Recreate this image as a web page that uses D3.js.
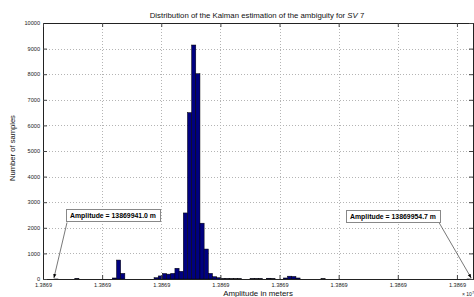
<!DOCTYPE html>
<html>
<head>
<meta charset="utf-8">
<script src="https://cdn.jsdelivr.net/npm/d3@7"></script>
<style>
  body { margin: 0; background: #fff; }
  svg { display: block; font-family: "Liberation Sans", Arial, sans-serif; }
</style>
</head>
<body>
<svg id="chart" width="474" height="297"></svg>
<script>
// histogram of the ambiguity estimate, 100 bins between min and max
var minAmp = 13869940.96;
var maxAmp = 13869954.72;
var binCounts = [
  1, 0, 0, 0, 0, 20, 0, 0, 0, 0,
  0, 0, 0, 0, 40, 740, 220, 0, 0, 0,
  0, 0, 0, 0, 50, 120, 215, 190, 220, 420,
  300, 2580, 6500, 9140, 8020, 2180, 1170, 220, 90, 50,
  15, 15, 10, 10, 10, 0, 0, 15, 15, 15,
  0, 30, 15, 0, 0, 40, 110, 100, 40, 0,
  0, 0, 0, 0, 10, 0, 0, 0, 0, 0,
  0, 0, 0, 0, 0, 0, 0, 0, 0, 0,
  0, 0, 0, 0, 0, 0, 0, 0, 0, 0,
  0, 0, 0, 0, 0, 0, 0, 0, 0, 1
];
var xDomain = [13869940.60, 13869954.78];
var xTickValues = [13869940.60, 13869942.55, 13869944.50, 13869946.45,
                   13869948.40, 13869950.35, 13869952.30, 13869954.25];
var yTickValues = [0, 1000, 2000, 3000, 4000, 5000, 6000, 7000, 8000, 9000, 10000];

var svg = d3.select("#chart");
var pLeft = 43, pRight = 473, pTop = 23, pBottom = 279;

var x = d3.scaleLinear().domain(xDomain).range([pLeft, pRight]);
var y = d3.scaleLinear().domain([0, 10000]).range([pBottom, pTop]);
var binW = (maxAmp - minAmp) / binCounts.length;

// grid
var grid = svg.append("g").attr("stroke", "#b4b4b4").attr("stroke-width", 1)
  .attr("stroke-dasharray", "1,2");
grid.selectAll(".gx").data(xTickValues.slice(1)).enter().append("line")
  .attr("x1", d => Math.round(x(d)) + 0.5).attr("x2", d => Math.round(x(d)) + 0.5)
  .attr("y1", pTop).attr("y2", pBottom);
grid.selectAll(".gy").data(yTickValues.slice(1, -1)).enter().append("line")
  .attr("x1", pLeft).attr("x2", pRight)
  .attr("y1", d => Math.round(y(d)) + 0.5).attr("y2", d => Math.round(y(d)) + 0.5);

// bars
var bins = binCounts.map(function (c, i) { return { i: i, c: c }; }).filter(d => d.c > 0);
svg.append("g").selectAll("rect").data(bins).enter().append("rect")
  .attr("x", d => x(minAmp + d.i * binW))
  .attr("width", d => x(minAmp + (d.i + 1) * binW) - x(minAmp + d.i * binW))
  .attr("y", d => y(d.c))
  .attr("height", d => y(0) - y(d.c))
  .attr("fill", "#000080")
  .attr("stroke", "#000")
  .attr("stroke-width", 0.5);

// axes (ticks point inward, like matlab)
var fmtX = d => (Math.floor(d / 1e3) / 1e4).toFixed(4);
var xAxis = svg.append("g").attr("transform", "translate(0," + pBottom + ")")
  .call(d3.axisBottom(x).tickValues(xTickValues).tickFormat(fmtX).tickSize(-4).tickPadding(4));
var yAxis = svg.append("g").attr("transform", "translate(" + pLeft + ",0)")
  .call(d3.axisLeft(y).tickValues(yTickValues).tickFormat(d3.format("d")).tickSize(-4).tickPadding(3));
var xTop = svg.append("g").attr("transform", "translate(0," + pTop + ")")
  .call(d3.axisTop(x).tickValues(xTickValues).tickFormat("").tickSize(-4));
var yRight = svg.append("g").attr("transform", "translate(" + pRight + ",0)")
  .call(d3.axisRight(y).tickValues(yTickValues).tickFormat("").tickSize(-4));

[xAxis, yAxis, xTop, yRight].forEach(function (g) {
  g.select(".domain").attr("stroke", "#222");
  g.selectAll(".tick line").attr("stroke", "#444");
  g.selectAll("text").attr("font-size", 5.6).attr("fill", "#222")
    .attr("font-family", "Liberation Sans, Arial, sans-serif");
});

// titles
svg.append("text").attr("x", 257).attr("y", 18).attr("text-anchor", "middle")
  .attr("font-size", 7.8).attr("fill", "#111")
  .html('Distribution of the Kalman estimation of the ambiguity for <tspan font-style="italic">SV</tspan> 7');
svg.append("text").attr("x", 258).attr("y", 296).attr("text-anchor", "middle")
  .attr("font-size", 7.9).attr("fill", "#111").text("Amplitude in meters");
svg.append("text").attr("transform", "translate(15,148) rotate(-90)").attr("text-anchor", "middle")
  .attr("font-size", 7.6).attr("fill", "#111").text("Number of samples");

// exponent
var ex = svg.append("text").attr("x", 462).attr("y", 296).attr("font-size", 5).attr("fill", "#222");
ex.append("tspan").text("\u00d7 10");
ex.append("tspan").attr("dy", -2.5).attr("font-size", 4).text("7");

// annotations with arrows
svg.append("defs").append("marker").attr("id", "ah")
  .attr("viewBox", "0 0 10 10").attr("refX", 10).attr("refY", 5)
  .attr("markerWidth", 5).attr("markerHeight", 5).attr("orient", "auto")
  .append("path").attr("d", "M0,1 L10,5 L0,9 Z").attr("fill", "#000");

function annotate(val, bx, by, startX, startY) {
  var g = svg.append("g");
  g.append("line").attr("x1", startX).attr("y1", startY)
    .attr("x2", x(val)).attr("y2", y(0) - 1)
    .attr("stroke", "#555").attr("stroke-width", 0.8).attr("marker-end", "url(#ah)");
  var t = g.append("text").attr("x", bx + 4).attr("y", by + 9)
    .attr("font-size", 6.9).attr("font-weight", "bold").attr("fill", "#000")
    .text("Amplitude = " + val.toFixed(1) + " m");
  var w = t.node().getComputedTextLength();
  g.insert("rect", "text").attr("x", bx + 0.5).attr("y", by + 0.5)
    .attr("width", w + 8).attr("height", 12)
    .attr("fill", "#fff").attr("stroke", "#888").attr("stroke-width", 1);
}
annotate(minAmp, 66, 209, 67, 222.5);
annotate(maxAmp, 346, 210, 439, 222.5);
</script>
</body>
</html>
